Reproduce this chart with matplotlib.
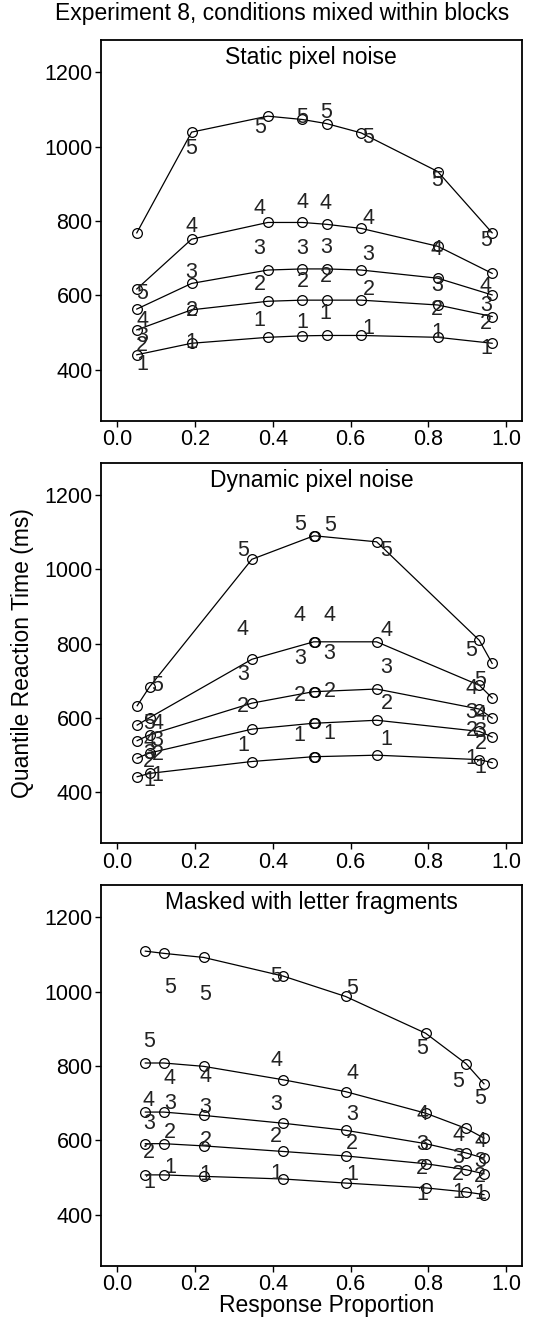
import numpy as np
import matplotlib
matplotlib.use('Agg')
import matplotlib.pyplot as plt

plt.rcParams['font.family'] = ['Liberation Sans', 'DejaVu Sans']

# model predictions: response proportion and quantile RTs (.1 .3 .5 .7 .9)
static_x = [0.050, 0.191, 0.387, 0.476, 0.538, 0.627, 0.824, 0.964]
static_q = [[440, 471, 487, 491, 492, 492, 487, 471],
            [507, 561, 584, 587, 587, 587, 574, 543],
            [563, 632, 668, 671, 671, 668, 646, 601],
            [617, 751, 796, 796, 791, 780, 732, 659],
            [768, 1039, 1082, 1073, 1062, 1037, 933, 768]]
# observed data
static_dx = [0.064, 0.191, 0.366, 0.476, 0.536, 0.646, 0.822, 0.948]
static_d = [[415, 474, 532, 527, 552, 512, 499, 457],
            [466, 559, 630, 638, 651, 615, 561, 523],
            [490, 662, 726, 725, 729, 709, 626, 572],
            [532, 786, 834, 850, 846, 807, 723, 624],
            [605, 996, 1052, 1079, 1091, 1025, 909, 747]]

dynamic_x = [0.051, 0.083, 0.346, 0.505, 0.509, 0.667, 0.931, 0.964]
dynamic_q = [[442, 451, 483, 496, 496, 500, 488, 480],
             [492, 506, 570, 586, 586, 594, 564, 549],
             [539, 555, 640, 671, 671, 678, 624, 600],
             [581, 601, 758, 805, 805, 805, 688, 654],
             [633, 684, 1027, 1090, 1090, 1074, 809, 747]]
dynamic_dx = [0.082, 0.103, 0.323, 0.469, 0.546, 0.692, 0.911, 0.934]
dynamic_d = [[433, 445, 525, 552, 557, 541, 490, 467],
             [483, 503, 631, 660, 671, 640, 566, 531],
             [505, 540, 718, 761, 774, 736, 615, 564],
             [537, 584, 839, 877, 877, 836, 680, 609],
             [584, 687, 1051, 1121, 1117, 1052, 781, 700]]

masked_x = [0.072, 0.119, 0.222, 0.426, 0.587, 0.793, 0.897, 0.943]
masked_q = [[507, 507, 503, 496, 485, 472, 461, 454],
            [591, 591, 585, 570, 558, 537, 521, 510],
            [676, 676, 667, 646, 627, 591, 566, 552],
            [808, 808, 799, 763, 731, 673, 632, 606],
            [1109, 1103, 1092, 1042, 987, 888, 806, 752]]
masked_dx = [0.081, 0.135, 0.227, 0.409, 0.604, 0.784, 0.877, 0.933]
masked_d = [[487, 528, 507, 510, 507, 455, 460, 458],
            [567, 621, 600, 610, 592, 525, 509, 503],
            [644, 698, 687, 696, 670, 588, 554, 543],
            [707, 767, 772, 814, 781, 669, 612, 597],
            [866, 1012, 991, 1041, 1009, 848, 758, 712]]

panels = [('Static pixel noise', static_x, static_q, static_dx, static_d),
          ('Dynamic pixel noise', dynamic_x, dynamic_q, dynamic_dx, dynamic_d),
          ('Masked with letter fragments', masked_x, masked_q, masked_dx, masked_d)]

fig = plt.figure(figsize=(5.55, 13.23), dpi=100)
tops = [0.9698, 0.6503, 0.3311]
h = 0.2877

for (title, mx, mq, dx, dd), top in zip(panels, tops):
	ax = fig.add_axes([0.182, top - h, 0.758, h])
	for i in range(5):
		ax.plot(mx, mq[i], color='black', lw=0.9, marker='o', ms=7,
		        mfc='none', mec='black', mew=0.9)
		for xx, yy in zip(dx, dd[i]):
			ax.text(xx, yy, str(i + 1), ha='center', va='center', fontsize=15.5,
			        color='#222222')
	ax.set_xlim(-0.042, 1.04)
	ax.set_ylim(263, 1287)
	ax.set_xticks(np.arange(0, 1.01, 0.2))
	ax.set_xticklabels(['%.1f' % v for v in np.arange(0, 1.01, 0.2)])
	ax.set_yticks([400, 600, 800, 1000, 1200])
	ax.tick_params(direction='out', length=4.5, width=1, labelsize=15.5, pad=1.5)
	for s in ax.spines.values():
		s.set_linewidth(1.3)
	ax.text(0.5, 0.953, title, transform=ax.transAxes, ha='center',
	        va='center', fontsize=16.5)

fig.text(0.508, 0.990, 'Experiment 8, conditions mixed within blocks',
         ha='center', va='center', fontsize=16.5)
fig.text(0.04, 0.506, 'Quantile Reaction Time (ms)', rotation=90,
         ha='center', va='center', fontsize=16.5)
fig.text(0.588, 0.013, 'Response Proportion', ha='center', va='center',
         fontsize=16.5)

fig.savefig('out.png', dpi=100)
